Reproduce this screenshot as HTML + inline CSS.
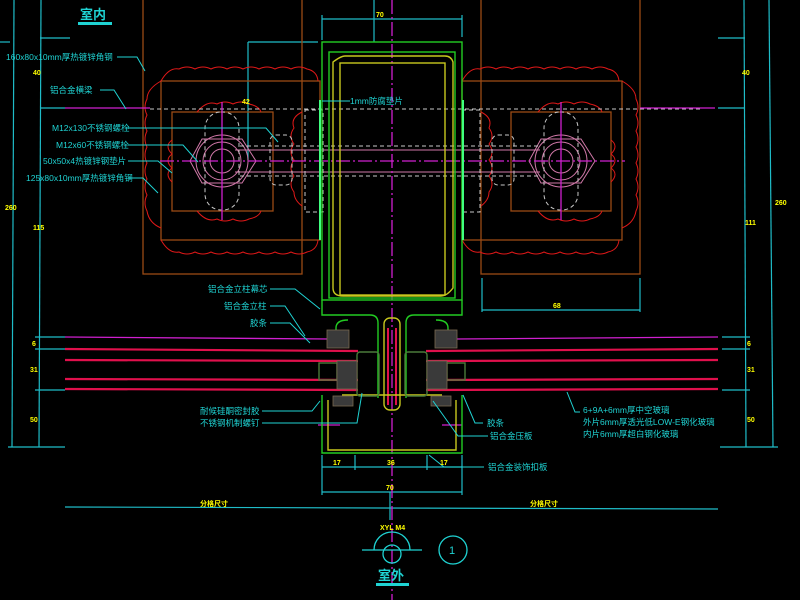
<!DOCTYPE html>
<html><head><meta charset="utf-8"><style>
html,body{margin:0;padding:0;background:#000;}
svg{display:block}
text{font-family:"Liberation Sans","Noto Sans CJK SC",sans-serif;}
.c{fill:#1fd3d3;font-size:8.5px}
.y{fill:#ffff00;font-size:7px;font-weight:bold}
</style></head><body>
<svg width="800" height="600" viewBox="0 0 800 600" xmlns="http://www.w3.org/2000/svg">
<rect width="800" height="600" fill="#000"/>
<g stroke="#1fbcc8" stroke-width="1.2" fill="none">
<line x1="14" y1="0" x2="12" y2="447"/><line x1="41" y1="0" x2="39" y2="447"/>
<line x1="40" y1="38" x2="70" y2="38"/><line x1="40" y1="108" x2="65" y2="108"/>
<line x1="35" y1="337" x2="65" y2="337"/><line x1="35" y1="349" x2="65" y2="349"/>
<line x1="35" y1="390" x2="65" y2="390"/><line x1="8" y1="447" x2="65" y2="447"/>
<line x1="744" y1="0" x2="746" y2="447"/><line x1="769" y1="0" x2="773" y2="447"/>
<line x1="718" y1="38" x2="745" y2="38"/><line x1="718" y1="108" x2="745" y2="108"/>
<line x1="722" y1="337" x2="750" y2="337"/><line x1="722" y1="349" x2="750" y2="349"/>
<line x1="722" y1="390" x2="750" y2="390"/><line x1="720" y1="447" x2="778" y2="447"/>
<line x1="322" y1="19" x2="462" y2="19"/><line x1="322" y1="15" x2="322" y2="40"/><line x1="462" y1="15" x2="462" y2="37"/>
<line x1="374" y1="0" x2="374" y2="42"/>
<line x1="248" y1="42" x2="318" y2="42"/><line x1="248" y1="42" x2="248" y2="160"/>
<line x1="0" y1="42" x2="10" y2="42"/>
<line x1="482" y1="310" x2="640" y2="310"/><line x1="482" y1="278" x2="482" y2="312"/><line x1="640" y1="278" x2="640" y2="312"/>
<line x1="322" y1="467" x2="462" y2="467"/>
<line x1="322" y1="455" x2="322" y2="495"/><line x1="355" y1="455" x2="355" y2="470"/><line x1="427" y1="455" x2="427" y2="470"/><line x1="462" y1="455" x2="462" y2="495"/>
<line x1="322" y1="492" x2="462" y2="492"/>
<line x1="65" y1="507" x2="718" y2="509"/><line x1="390" y1="492" x2="390" y2="520"/>
</g>
<g stroke="#9a4a14" stroke-width="1.3" fill="none">
<rect x="143" y="-2" width="159" height="276"/><rect x="161" y="81" width="159" height="159"/><rect x="172" y="112" width="101" height="99"/>
<rect x="481" y="-2" width="159" height="276"/><rect x="462" y="81" width="160" height="159"/><rect x="511" y="112" width="100" height="99"/>
</g>
<g stroke="#e01818" stroke-width="1" fill="none">
<path d="M161 81 q8-14 18-12 q8-4 16 0 q8-4 16 0 q8-4 16 0 q8-4 16 0 q8-4 16 0 q8-4 16 0 q8-4 16 0 q8-4 16 0 q10 2 11 12"/>
<path d="M161 240 q8 14 18 12 q8 4 16 0 q8 4 16 0 q8 4 16 0 q8 4 16 0 q8 4 16 0 q8 4 16 0 q8 4 16 0 q8 4 16 0 q10-2 11-12"/>
<path d="M161 81 q-14 8-14 18 q-4 8 0 16 q-4 8 0 16 q-4 8 0 16 q-4 8 0 16 q-4 8 0 16 q-4 8 0 16 q-4 8 0 16 q2 12 14 17"/>
<path d="M462 81 q8-14 18-12 q8-4 16 0 q8-4 16 0 q8-4 16 0 q8-4 16 0 q8-4 16 0 q8-4 16 0 q8-4 16 0 q8-4 16 0 q10 2 11 12"/>
<path d="M462 240 q8 14 18 12 q8 4 16 0 q8 4 16 0 q8 4 16 0 q8 4 16 0 q8 4 16 0 q8 4 16 0 q8 4 16 0 q8 4 16 0 q10-2 11-12"/>
<path d="M622 81 q14 8 14 18 q4 8 0 16 q4 8 0 16 q4 8 0 16 q4 8 0 16 q4 8 0 16 q4 8 0 16 q4 8 0 16 q-2 12-14 17"/>
<path d="M197 112 q10-12 20-8 q8-4 16 0 q8-4 16 0 q10 2 12 8"/><path d="M197 211 q10 12 20 8 q8 4 16 0 q8 4 16 0 q10-2 12-8"/>
<path d="M172 140 q-8 6 0 14 q-8 6 0 14 q-8 6 0 14"/>
<path d="M538 112 q10-12 20-8 q8-4 16 0 q8-4 16 0 q10 2 12 8"/><path d="M538 211 q10 12 20 8 q8 4 16 0 q8 4 16 0 q10-2 12-8"/>
<path d="M611 140 q8 6 0 14 q8 6 0 14 q8 6 0 14"/>
<path d="M302 112 q-12 6-8 16 q-6 8 0 16 q-6 8 0 16 q-6 8 0 16 q-6 8 0 16 q0 8 8 14"/>
<path d="M481 112 q12 6 8 16 q6 8 0 16 q6 8 0 16 q6 8 0 16 q6 8 0 16 q0 8-8 14"/>
</g>
<g stroke="#d078a8" stroke-width="1" fill="none">
<circle cx="222" cy="161" r="12"/><circle cx="222" cy="161" r="19"/><circle cx="222" cy="161" r="26"/>
<path d="M190 161 l12 -22 h40 l14 22 l-14 22 h-40z"/>
<circle cx="561" cy="161" r="12"/><circle cx="561" cy="161" r="19"/><circle cx="561" cy="161" r="26"/>
<path d="M529 161 l12 -22 h40 l14 22 l-14 22 h-40z"/>
<line x1="235" y1="150" x2="540" y2="150"/><line x1="235" y1="172" x2="540" y2="172"/>
</g>
<g stroke="#c8c8c8" stroke-width="1" fill="none" stroke-dasharray="4 3">
<rect x="205" y="112" width="34" height="98" rx="16"/><rect x="544" y="112" width="34" height="98" rx="16"/>
<line x1="150" y1="109" x2="700" y2="109"/>
<rect x="305" y="110" width="18" height="102"/><rect x="462" y="110" width="18" height="102"/>
<line x1="240" y1="146" x2="540" y2="146"/><line x1="240" y1="176" x2="540" y2="176"/>
<rect x="270" y="135" width="22" height="50" rx="6"/><rect x="492" y="135" width="22" height="50" rx="6"/>
</g>
<g stroke="#d020d0" stroke-width="1.3" fill="none">
<line x1="392" y1="0" x2="392" y2="600" stroke-dasharray="14 3 2 3"/>
<line x1="160" y1="161" x2="625" y2="161" stroke-dasharray="14 3 2 3"/>
<line x1="222" y1="102" x2="222" y2="220"/><line x1="561" y1="102" x2="561" y2="220"/>
<line x1="65" y1="108" x2="150" y2="108"/><line x1="640" y1="108" x2="715" y2="108"/>
<line x1="65" y1="337" x2="330" y2="339"/><line x1="455" y1="339" x2="718" y2="337"/>
<line x1="318" y1="425" x2="340" y2="425"/><line x1="442" y1="425" x2="462" y2="425"/>
</g>
<g stroke="#e0104c" stroke-width="2.2" fill="none">
<line x1="65" y1="349" x2="358" y2="351"/><line x1="65" y1="360" x2="358" y2="361"/><line x1="65" y1="379" x2="358" y2="380"/><line x1="65" y1="389" x2="358" y2="390"/>
<line x1="426" y1="351" x2="718" y2="349"/><line x1="426" y1="361" x2="718" y2="360"/><line x1="426" y1="380" x2="718" y2="379"/><line x1="426" y1="390" x2="718" y2="389"/>
</g>
<g fill="none" stroke-width="1.4">
<rect x="322" y="42" width="140" height="258" stroke="#22cc22"/>
<rect x="329" y="52" width="126" height="246" stroke="#22cc22"/>
<path d="M333 62 q8-6 12-6 h100 q6 0 8 6 v226 q-6 8-12 8 h-98 q-10 0-10-8z" stroke="#c8c81e"/>
<rect x="340" y="63" width="105" height="232" stroke="#c8c81e"/>
<line x1="320" y1="100" x2="320" y2="240" stroke="#40ff80" stroke-width="2"/><line x1="463" y1="100" x2="463" y2="240" stroke="#40ff80" stroke-width="2"/>
<path d="M322 300 v15 q0 0 8 0 h40 q8 0 8 8 v75 M462 300 v15 h-48 q-8 0-8 8 v75" stroke="#22cc22"/>
<path d="M348 320 q-12 0-12 8 v10 M436 320 q12 0 12 8 v10" stroke="#22cc22"/>
<rect x="384" y="318" width="16" height="92" rx="6" stroke="#c8c81e"/>
<line x1="388" y1="328" x2="388" y2="405" stroke="#e0104c" stroke-width="2"/><line x1="396" y1="328" x2="396" y2="405" stroke="#e0104c" stroke-width="2"/>
<path d="M322 395 v58 h140 v-58" stroke="#22cc22"/>
<path d="M328 400 v50 h128 v-50" stroke="#c8c81e"/>
<path d="M342 395 h100" stroke="#c8c81e"/>
<rect x="357" y="352" width="22" height="44" rx="3" stroke="#4a7a3a"/><rect x="405" y="352" width="22" height="44" rx="3" stroke="#4a7a3a"/>
<rect x="319" y="363" width="18" height="17" stroke="#4a7a3a"/><rect x="447" y="363" width="18" height="17" stroke="#4a7a3a"/>
</g>
<g fill="#3a3a3a" stroke="#7a6a50" stroke-width="0.8">
<rect x="337" y="361" width="20" height="28"/><rect x="427" y="361" width="20" height="28"/>
<rect x="327" y="330" width="22" height="18"/><rect x="435" y="330" width="22" height="18"/>
<rect x="333" y="396" width="20" height="10"/><rect x="431" y="396" width="20" height="10"/>
</g>
<g stroke="#1fd3d3" stroke-width="1" fill="none">
<path d="M117 57 h20 l8 14"/><path d="M100 90 h14 l12 19"/>
<path d="M128 128 h138 l12 14"/><path d="M128 145 h55 l15 17"/><path d="M128 161 h30 l14 12"/><path d="M128 178 h15 l15 15"/>
<path d="M322 101 h28"/>
<path d="M270 289 h25 l25 20"/><path d="M270 306 h15 l20 30"/><path d="M270 323 h20 l20 20"/>
<path d="M262 411 h50 l8 -10"/><path d="M262 423 h95 l5 -30"/>
<path d="M483 423 h-8 l-12 -28"/><path d="M488 436 h-30 l-25 -35"/><path d="M484 467 h-40 l-15 -12"/>
<path d="M580 412 h-5 l-8 -20"/>
</g>
<g stroke="#1fd3d3" stroke-width="1.3" fill="none">
<path d="M374 550 a18 18 0 0 1 36 0"/><line x1="362" y1="550" x2="422" y2="550"/>
<circle cx="392" cy="554" r="9"/><circle cx="453" cy="550" r="14"/>
</g>
<rect x="376" y="583" width="33" height="3" fill="#1fd3d3"/>
<rect x="78" y="22" width="34" height="3" fill="#1fd3d3"/>
<text x="80" y="19" fill="#1fd3d3" font-size="13" font-weight="bold">室内</text>
<text x="378" y="580" fill="#1fd3d3" font-size="13" font-weight="bold">室外</text>
<text x="449" y="554" fill="#1fd3d3" font-size="11">1</text>
<text x="380" y="530" class="y">XYL M4</text>
<text x="6" y="60" class="c">160x80x10mm厚热镀锌角钢</text>
<text x="50" y="93" class="c">铝合金横梁</text>
<text x="52" y="131" class="c">M12x130不锈钢螺栓</text>
<text x="56" y="148" class="c">M12x60不锈钢螺栓</text>
<text x="43" y="164" class="c">50x50x4热镀锌钢垫片</text>
<text x="26" y="181" class="c">125x80x10mm厚热镀锌角钢</text>
<text x="350" y="104" class="c" font-size="7.5">1mm防腐垫片</text>
<text x="208" y="292" class="c">铝合金立柱幕芯</text>
<text x="224" y="309" class="c">铝合金立柱</text>
<text x="250" y="326" class="c">胶条</text>
<text x="200" y="414" class="c">耐候硅酮密封胶</text>
<text x="200" y="426" class="c">不锈钢机制螺钉</text>
<text x="487" y="426" class="c">胶条</text>
<text x="490" y="439" class="c">铝合金压板</text>
<text x="488" y="470" class="c">铝合金装饰扣板</text>
<text x="583" y="413" class="c">6+9A+6mm厚中空玻璃</text>
<text x="583" y="425" class="c">外片6mm厚透光低LOW-E钢化玻璃</text>
<text x="583" y="437" class="c">内片6mm厚超白钢化玻璃</text>
<text x="376" y="17" class="y">70</text><text x="386" y="490" class="y">70</text>
<text x="333" y="465" class="y">17</text><text x="387" y="465" class="y">36</text><text x="440" y="465" class="y">17</text>
<text x="553" y="308" class="y">68</text>
<text x="200" y="506" class="y">分格尺寸</text><text x="530" y="506" class="y">分格尺寸</text>
<text x="33" y="75" class="y">40</text><text x="5" y="210" class="y">260</text><text x="33" y="230" class="y">115</text>
<text x="32" y="346" class="y">6</text><text x="30" y="372" class="y">31</text><text x="30" y="422" class="y">50</text>
<text x="742" y="75" class="y">40</text><text x="775" y="205" class="y">260</text><text x="745" y="225" class="y">111</text>
<text x="747" y="346" class="y">6</text><text x="747" y="372" class="y">31</text><text x="747" y="422" class="y">50</text>
<text x="242" y="104" class="y">42</text>
</svg>
</body></html>
